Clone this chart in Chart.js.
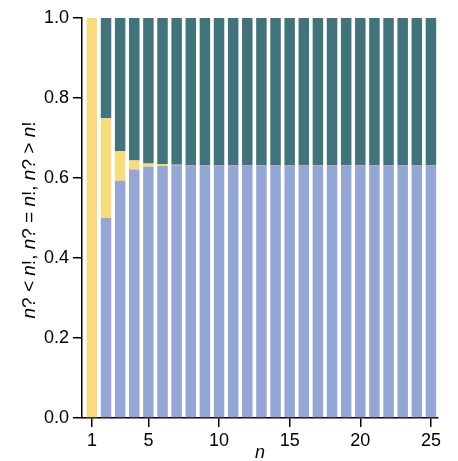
<!DOCTYPE html>
<html>
<head>
<meta charset="utf-8">
<script src="https://cdn.jsdelivr.net/npm/chart.js@4.4.1/dist/chart.umd.min.js"></script>
<style>
  html, body { margin: 0; padding: 0; background: #fff; }
  #wrap { position: relative; width: 458px; height: 461px; }
</style>
</head>
<body>
<div id="wrap"><canvas id="chart"></canvas></div>
<script>
// n = 1..25
const ns = [1, 2, 3, 4, 5, 6, 7, 8, 9, 10, 11, 12, 13, 14, 15, 16, 17, 18, 19, 20, 21, 22, 23, 24, 25];

// probabilities
const lessThan = [0, 0.5, 0.593, 0.621, 0.628, 0.630, 0.632, 0.632, 0.632, 0.632, 0.632, 0.632, 0.632,
  0.632, 0.632, 0.632, 0.632, 0.632, 0.632, 0.632, 0.632, 0.632, 0.632, 0.632, 0.632];
const equalTo = [1, 0.25, 0.074, 0.023, 0.008, 0.005, 0.001, 0, 0, 0, 0, 0, 0,
  0, 0, 0, 0, 0, 0, 0, 0, 0, 0, 0, 0];
const greaterThan = [0, 0.25, 0.333, 0.356, 0.364, 0.365, 0.367, 0.368, 0.368, 0.368, 0.368, 0.368, 0.368,
  0.368, 0.368, 0.368, 0.368, 0.368, 0.368, 0.368, 0.368, 0.368, 0.368, 0.368, 0.368];

const xTicks = [1, 5, 10, 15, 20, 25];
const yTicks = [0, 0.2, 0.4, 0.6, 0.8, 1.0];

const FONT = '"Liberation Sans", Arial, Helvetica, sans-serif';

const toPoints = vals => ns.map((n, i) => ({ x: n, y: vals[i] }));

// axis titles with italic n
const titles = {
  id: 'titles',
  afterDraw(chart) {
    const { ctx, chartArea } = chart;
    const yParts = [
      ['n', 'italic'], ['? < ', 'normal'], ['n', 'italic'], ['!, ', 'normal'],
      ['n', 'italic'], ['? = ', 'normal'], ['n', 'italic'], ['!, ', 'normal'],
      ['n', 'italic'], ['? > ', 'normal'], ['n', 'italic'], ['!', 'normal']
    ];
    ctx.save();
    ctx.fillStyle = '#000';
    ctx.textBaseline = 'middle';
    ctx.textAlign = 'left';
    let total = 0;
    yParts.forEach(([t, s]) => {
      ctx.font = s + ' 19px ' + FONT;
      total += ctx.measureText(t).width;
    });
    ctx.translate(30, (chartArea.top + chartArea.bottom) / 2 + 2);
    ctx.rotate(-Math.PI / 2);
    let x = -total / 2;
    yParts.forEach(([t, s]) => {
      ctx.font = s + ' 19px ' + FONT;
      ctx.fillText(t, x, 0);
      x += ctx.measureText(t).width;
    });
    ctx.restore();

    ctx.save();
    ctx.fillStyle = '#000';
    ctx.font = 'italic 18px ' + FONT;
    ctx.textAlign = 'center';
    ctx.textBaseline = 'middle';
    ctx.fillText('n', (chartArea.left + chartArea.right) / 2, 453);
    ctx.restore();
  }
};

const barStyle = { barThickness: 10.5, inflateAmount: 0, borderWidth: 0 };

new Chart(document.getElementById('chart'), {
  type: 'bar',
  data: {
    datasets: [
      { label: 'n? < n!', data: toPoints(lessThan), backgroundColor: '#95a6d4', ...barStyle },
      { label: 'n? = n!', data: toPoints(equalTo), backgroundColor: '#f8da7f', ...barStyle },
      { label: 'n? > n!', data: toPoints(greaterThan), backgroundColor: '#43737a', ...barStyle }
    ]
  },
  options: {
    responsive: true,
    maintainAspectRatio: false,
    animation: false,
    layout: { padding: { top: 18, right: 20, left: 0, bottom: 0 } },
    plugins: { legend: { display: false }, tooltip: { enabled: false } },
    scales: {
      x: {
        type: 'linear',
        stacked: true,
        offset: false,
        min: 0.3,
        max: 25.5,
        afterFit: s => { s.height = 43; },
        afterBuildTicks: s => { s.ticks = xTicks.map(v => ({ value: v })); },
        grid: { offset: false, drawOnChartArea: false, drawTicks: true, tickLength: 9, color: '#000', lineWidth: 1.5 },
        border: { display: true, color: '#000', width: 1.5 },
        ticks: { color: '#000', font: { family: FONT, size: 18 }, padding: 3, maxRotation: 0, autoSkip: false }
      },
      y: {
        stacked: true,
        min: 0,
        max: 1,
        afterFit: s => { s.width = 82; },
        afterBuildTicks: s => { s.ticks = yTicks.map(v => ({ value: v })); },
        grid: { drawOnChartArea: false, drawTicks: true, tickLength: 9, color: '#000', lineWidth: 1.5 },
        border: { display: true, color: '#000', width: 1.5 },
        ticks: { color: '#000', font: { family: FONT, size: 18 }, padding: 4, callback: v => v.toFixed(1) }
      }
    }
  },
  plugins: [titles]
});
</script>
</body>
</html>
